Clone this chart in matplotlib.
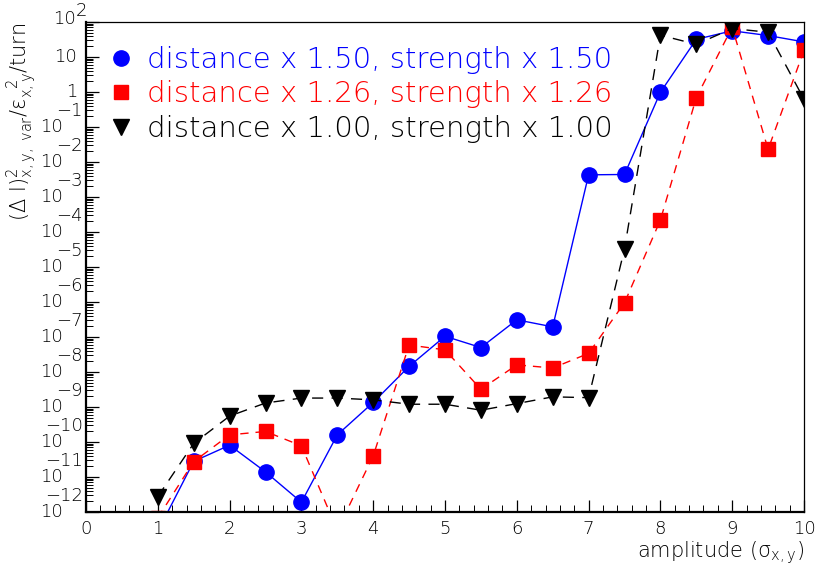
import numpy as np
import matplotlib
matplotlib.use('Agg')
import matplotlib.pyplot as plt
from matplotlib.lines import Line2D
from matplotlib.ticker import FixedLocator, LogLocator, MultipleLocator, NullFormatter

# ── Data: tune-shift diffusion vs. amplitude for three scalings ─────────────
amplitude = [1.0, 1.5, 2.0, 2.5, 3.0, 3.5, 4.0, 4.5, 5.0, 5.5,
             6.0, 6.5, 7.0, 7.5, 8.0, 8.5, 9.0, 9.5, 10.0]

diff_150 = [2.8e-13, 2.8e-11, 8.1e-11, 1.4e-11, 1.9e-12, 1.6e-10, 1.35e-9,
            1.45e-8, 1.05e-7, 5.0e-8, 3.1e-7, 1.95e-7, 4.3e-3, 4.4e-3,
            0.98, 32.0, 56.0, 41.0, 27.0]
diff_126 = [6.8e-13, 2.75e-11, 1.6e-10, 2.0e-10, 7.8e-11, 3.0e-13, 4.0e-11,
            5.9e-8, 4.3e-8, 3.2e-9, 1.6e-8, 1.3e-8, 3.4e-8, 9.5e-7,
            2.2e-4, 0.69, 71.0, 2.3e-2, 15.5]
diff_100 = [2.75e-12, 9.1e-11, 5.5e-10, 1.3e-9, 1.8e-9, 1.8e-9, 1.6e-9,
            1.2e-9, 1.2e-9, 8.1e-10, 1.25e-9, 1.95e-9, 1.85e-9, 3.3e-5,
            42.0, 23.0, 65.0, 51.0, 0.62]

labels = ['distance x 1.50, strength x 1.50',
          'distance x 1.26, strength x 1.26',
          'distance x 1.00, strength x 1.00']
colors = ['blue', 'red', 'black']

decades = list(range(-12, 3))

plt.rcParams['font.family'] = 'DejaVu Sans'
plt.rcParams['font.weight'] = 'light'
plt.rcParams['mathtext.fontset'] = 'custom'
plt.rcParams['mathtext.rm'] = 'DejaVu Sans:light'
plt.rcParams['mathtext.it'] = 'DejaVu Sans:light'
plt.rcParams['mathtext.default'] = 'regular'

W, H = 819, 571
x0, x1, y0, y1 = 86, 804, 22, 512      # frame in pixels
fig = plt.figure(figsize=(W / 100, H / 100), dpi=100)
ax = fig.add_axes([x0 / W, 1 - y1 / H, (x1 - x0) / W, (y1 - y0) / H])

ax.plot(amplitude, diff_150, color='blue', lw=1.0, ls='-',
        marker='o', ms=11, mec='blue', mfc='blue')
ax.plot(amplitude, diff_126, color='red', lw=1.0, ls=(0, (6, 5)),
        marker='s', ms=10.5, mec='red', mfc='red')
ax.plot(amplitude, diff_100, color='black', lw=1.0, ls=(0, (8, 6)),
        marker='v', ms=11.5, mec='black', mfc='black')

ax.set_xlim(0, 10)
ax.set_yscale('log')
ax.set_ylim(1e-12, 1e2)

# ROOT-like ticks: inward, left/bottom only
ax.yaxis.set_major_locator(FixedLocator([10.0 ** d for d in decades]))
ax.yaxis.set_minor_locator(LogLocator(base=10, subs=np.arange(2, 10), numticks=30))
ax.yaxis.set_minor_formatter(NullFormatter())
ax.set_yticklabels([])
ax.xaxis.set_major_locator(MultipleLocator(1))
ax.xaxis.set_minor_locator(MultipleLocator(0.2))
ax.tick_params(axis='both', which='both', direction='in', top=False, right=False)
ax.tick_params(axis='y', which='major', length=9, width=0.9)
ax.tick_params(axis='y', which='minor', length=5, width=0.7)
ax.tick_params(axis='x', which='major', length=9, width=0.9, labelsize=13, pad=6)
ax.tick_params(axis='x', which='minor', length=5, width=0.7)
for side in ['left', 'bottom']:
    ax.spines[side].set_linewidth(1.6)
for side in ['top', 'right']:
    ax.spines[side].set_linewidth(0.9)

# y tick labels drawn as "10" plus a raised exponent of the same size
ytr = ax.get_yaxis_transform()
def px(x):
    return (x - x0) / (x1 - x0)

for d in decades:
    yv = 10.0 ** d
    if d == 0:
        ax.text(px(77), yv, '1', transform=ytr, ha='right', va='center', fontsize=13)
    elif d == 1:
        ax.text(px(77), yv, '10', transform=ytr, ha='right', va='center', fontsize=13)
    elif d > 1:
        ax.text(px(76), yv * 10 ** 0.1, '10', transform=ytr, ha='right',
                va='center', fontsize=13)
        ax.text(px(76), yv * 10 ** 0.3, str(d), transform=ytr, ha='left',
                va='center', fontsize=13)
    else:
        ax.text(px(63), yv, '10', transform=ytr, ha='right', va='center', fontsize=13)
        ax.text(px(83), yv * 10 ** 0.45, '\u2212' + str(-d), transform=ytr,
                ha='right', va='center', fontsize=13)

fig.text(x1 / W, 1 - 553 / H, r'amplitude ($\sigma_{x,y}$)', fontsize=15,
         ha='right', va='center')
fig.text(22 / W, 1 - 22 / H,
         r'$(\Delta\ l)^{2}_{x,y,\ var}/\varepsilon_{x,y}^{\ \ 2}/turn$',
         fontsize=15, rotation=90, ha='center', va='top')

handles = [
    Line2D([], [], ls='none', marker='o', ms=11, color='blue'),
    Line2D([], [], ls='none', marker='s', ms=10.5, color='red'),
    Line2D([], [], ls='none', marker='v', ms=11.5, color='black'),
]
leg = ax.legend(handles, labels, loc='upper left', bbox_to_anchor=(0.016, 0.975),
                frameon=False, fontsize=21, handlelength=0.8, handletextpad=0.5,
                labelspacing=0.22, borderaxespad=0.0)
for txt, col in zip(leg.get_texts(), colors):
    txt.set_color(col)

fig.savefig('out.png', dpi=100)
